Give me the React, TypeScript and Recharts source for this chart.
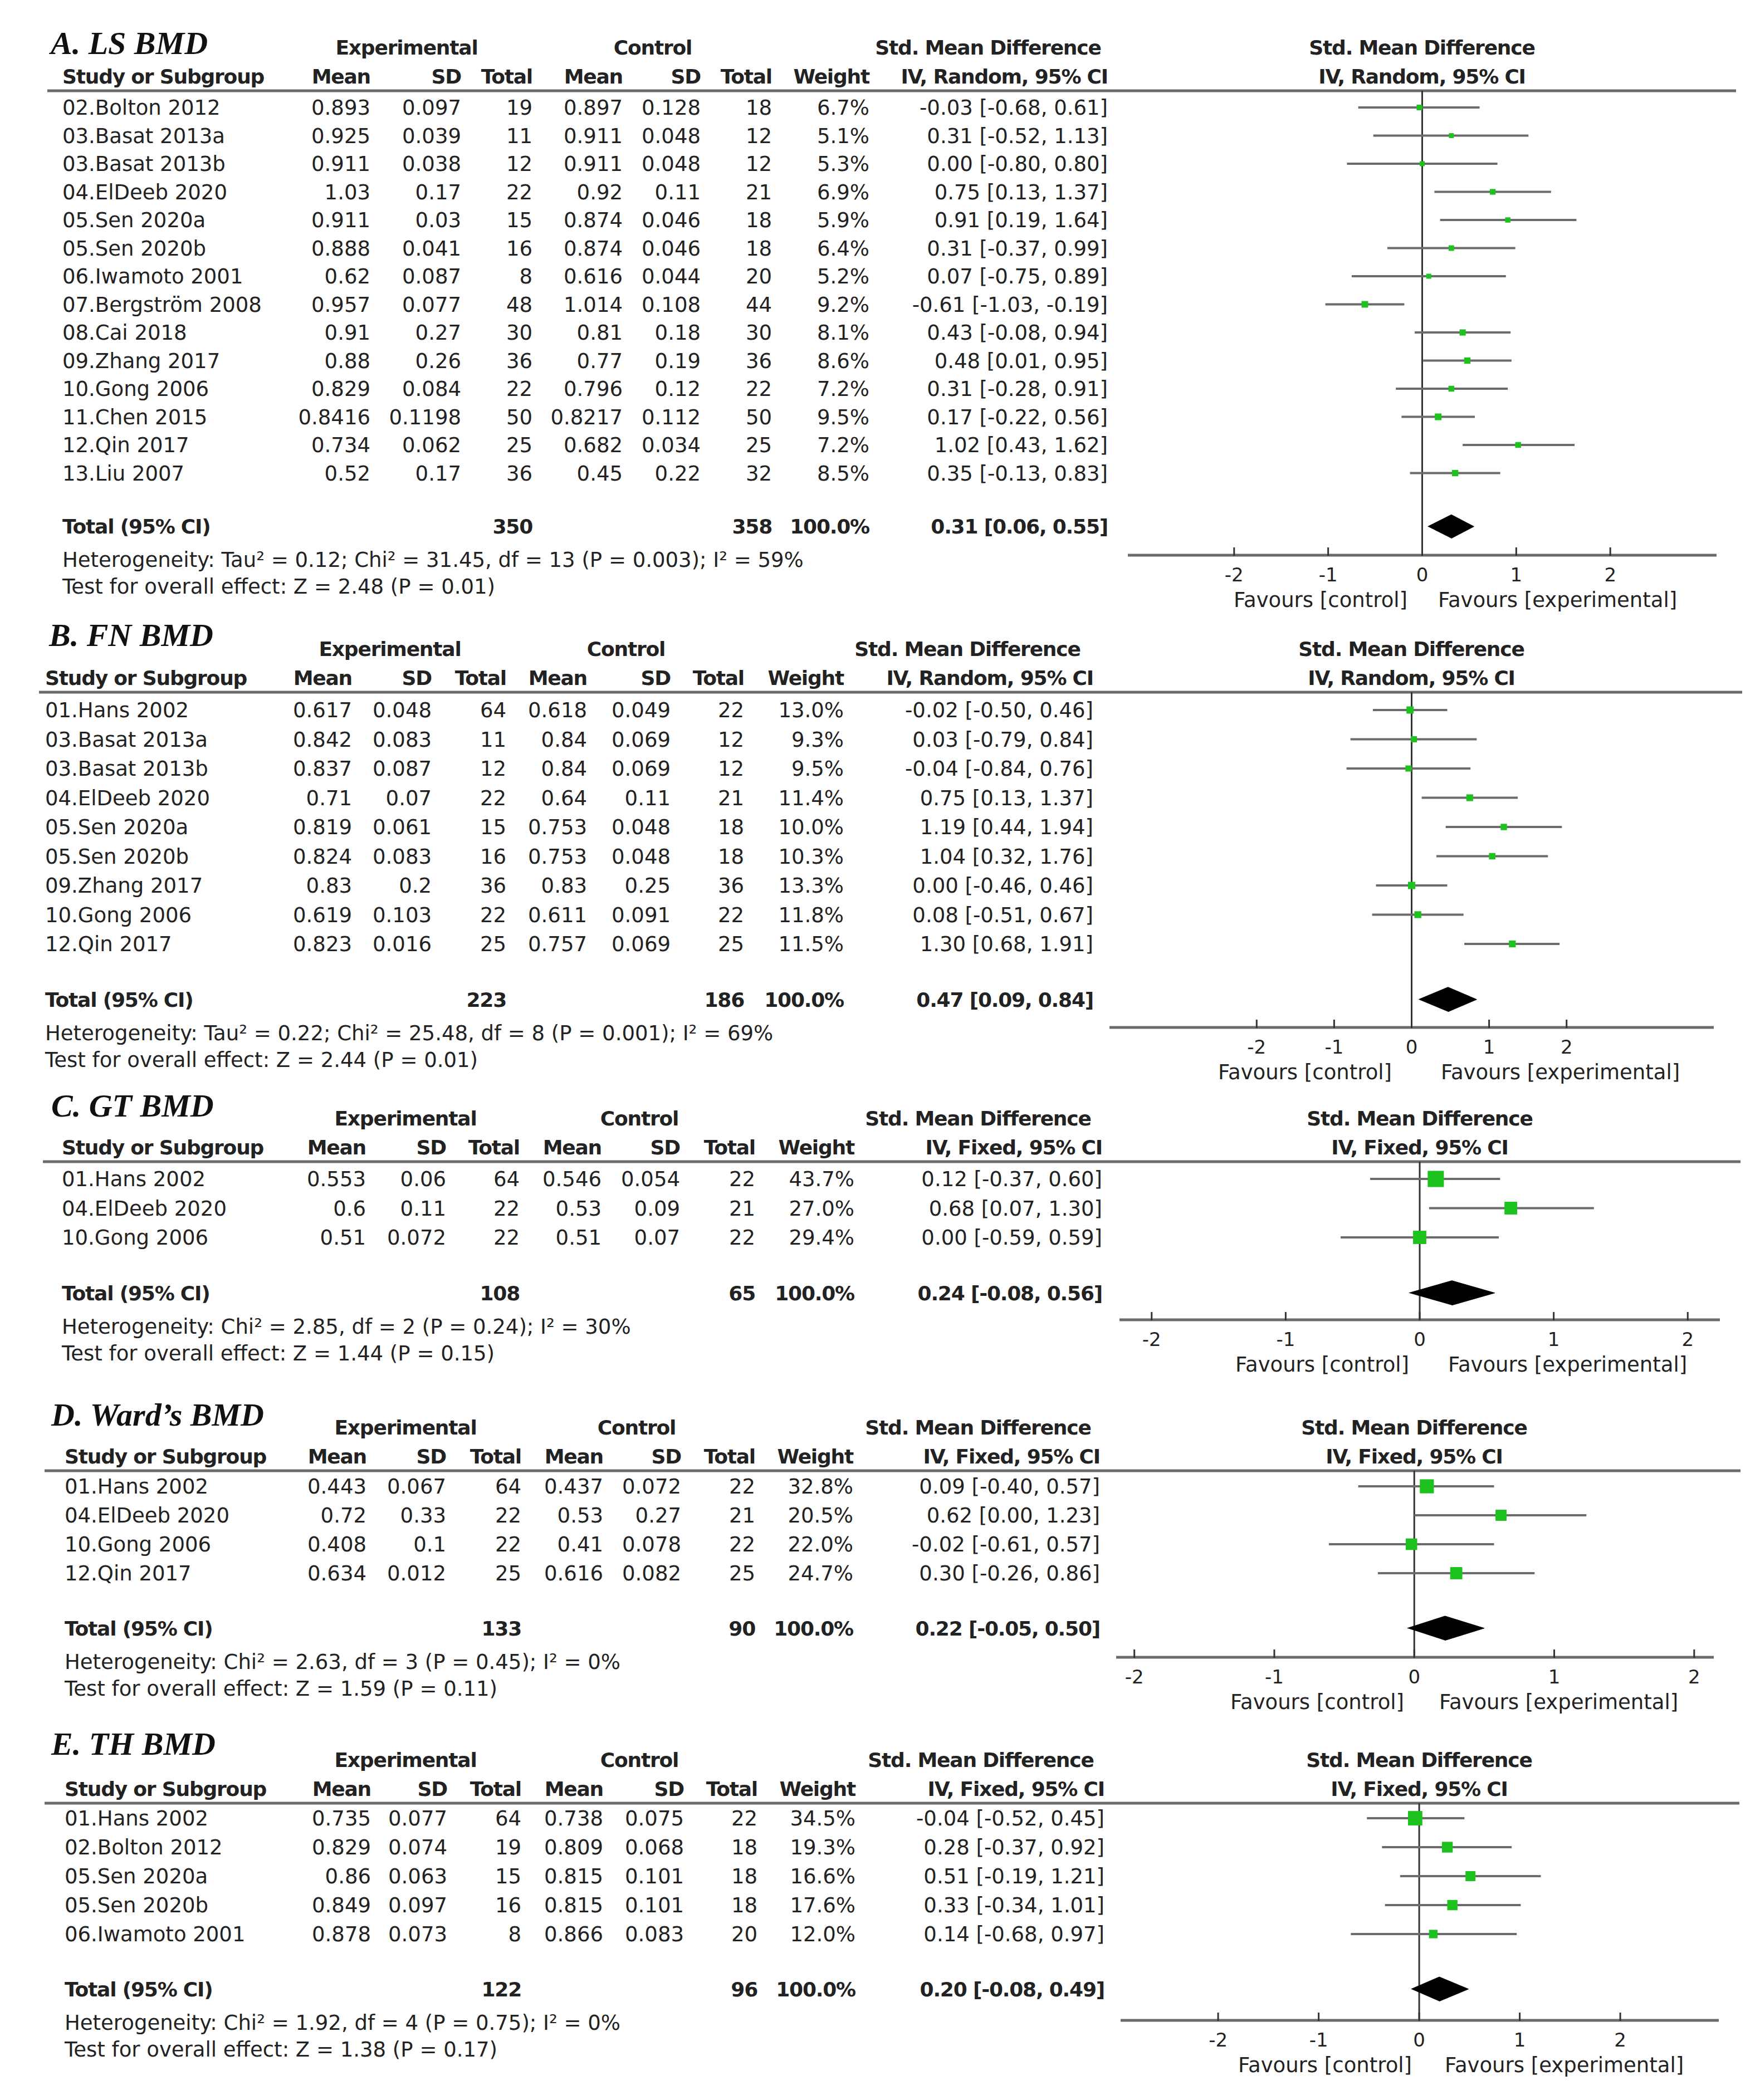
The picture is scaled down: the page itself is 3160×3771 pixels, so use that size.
import React from "react"
import {
  ScatterChart,
  Scatter,
  XAxis,
  YAxis,
  ErrorBar,
  ReferenceLine,
  Customized,
} from "recharts"

// ---- A. LS BMD (random effects)
const lsStudies = ["02.Bolton 2012", "03.Basat 2013a", "03.Basat 2013b", "04.ElDeeb 2020", "05.Sen 2020a", "05.Sen 2020b", "06.Iwamoto 2001", "07.Bergström 2008", "08.Cai 2018", "09.Zhang 2017", "10.Gong 2006", "11.Chen 2015", "12.Qin 2017", "13.Liu 2007"]
const lsExpMean = [0.893, 0.925, 0.911, 1.03, 0.911, 0.888, 0.62, 0.957, 0.91, 0.88, 0.829, 0.8416, 0.734, 0.52]
const lsExpSd = [0.097, 0.039, 0.038, 0.17, 0.03, 0.041, 0.087, 0.077, 0.27, 0.26, 0.084, 0.1198, 0.062, 0.17]
const lsExpN = [19, 11, 12, 22, 15, 16, 8, 48, 30, 36, 22, 50, 25, 36]
const lsCtlMean = [0.897, 0.911, 0.911, 0.92, 0.874, 0.874, 0.616, 1.014, 0.81, 0.77, 0.796, 0.8217, 0.682, 0.45]
const lsCtlSd = [0.128, 0.048, 0.048, 0.11, 0.046, 0.046, 0.044, 0.108, 0.18, 0.19, 0.12, 0.112, 0.034, 0.22]
const lsCtlN = [18, 12, 12, 21, 18, 18, 20, 44, 30, 36, 22, 50, 25, 32]
const lsWeight = [6.7, 5.1, 5.3, 6.9, 5.9, 6.4, 5.2, 9.2, 8.1, 8.6, 7.2, 9.5, 7.2, 8.5]
const lsSmd = [-0.03, 0.31, 0.0, 0.75, 0.91, 0.31, 0.07, -0.61, 0.43, 0.48, 0.31, 0.17, 1.02, 0.35]
const lsLow = [-0.68, -0.52, -0.8, 0.13, 0.19, -0.37, -0.75, -1.03, -0.08, 0.01, -0.28, -0.22, 0.43, -0.13]
const lsHigh = [0.61, 1.13, 0.8, 1.37, 1.64, 0.99, 0.89, -0.19, 0.94, 0.95, 0.91, 0.56, 1.62, 0.83]
const lsTotals = [350, 358]
const lsPooled = [0.31, 0.06, 0.55]
const lsHet = "Heterogeneity: Tau² = 0.12; Chi² = 31.45, df = 13 (P = 0.003); I² = 59%"
const lsTest = "Test for overall effect: Z = 2.48 (P = 0.01)"

// ---- B. FN BMD (random effects)
const fnStudies = ["01.Hans 2002", "03.Basat 2013a", "03.Basat 2013b", "04.ElDeeb 2020", "05.Sen 2020a", "05.Sen 2020b", "09.Zhang 2017", "10.Gong 2006", "12.Qin 2017"]
const fnExpMean = [0.617, 0.842, 0.837, 0.71, 0.819, 0.824, 0.83, 0.619, 0.823]
const fnExpSd = [0.048, 0.083, 0.087, 0.07, 0.061, 0.083, 0.2, 0.103, 0.016]
const fnExpN = [64, 11, 12, 22, 15, 16, 36, 22, 25]
const fnCtlMean = [0.618, 0.84, 0.84, 0.64, 0.753, 0.753, 0.83, 0.611, 0.757]
const fnCtlSd = [0.049, 0.069, 0.069, 0.11, 0.048, 0.048, 0.25, 0.091, 0.069]
const fnCtlN = [22, 12, 12, 21, 18, 18, 36, 22, 25]
const fnWeight = [13.0, 9.3, 9.5, 11.4, 10.0, 10.3, 13.3, 11.8, 11.5]
const fnSmd = [-0.02, 0.03, -0.04, 0.75, 1.19, 1.04, 0.0, 0.08, 1.3]
const fnLow = [-0.5, -0.79, -0.84, 0.13, 0.44, 0.32, -0.46, -0.51, 0.68]
const fnHigh = [0.46, 0.84, 0.76, 1.37, 1.94, 1.76, 0.46, 0.67, 1.91]
const fnTotals = [223, 186]
const fnPooled = [0.47, 0.09, 0.84]
const fnHet = "Heterogeneity: Tau² = 0.22; Chi² = 25.48, df = 8 (P = 0.001); I² = 69%"
const fnTest = "Test for overall effect: Z = 2.44 (P = 0.01)"

// ---- C. GT BMD (fixed effect)
const gtStudies = ["01.Hans 2002", "04.ElDeeb 2020", "10.Gong 2006"]
const gtExpMean = [0.553, 0.6, 0.51]
const gtExpSd = [0.06, 0.11, 0.072]
const gtExpN = [64, 22, 22]
const gtCtlMean = [0.546, 0.53, 0.51]
const gtCtlSd = [0.054, 0.09, 0.07]
const gtCtlN = [22, 21, 22]
const gtWeight = [43.7, 27.0, 29.4]
const gtSmd = [0.12, 0.68, 0.0]
const gtLow = [-0.37, 0.07, -0.59]
const gtHigh = [0.6, 1.3, 0.59]
const gtTotals = [108, 65]
const gtPooled = [0.24, -0.08, 0.56]
const gtHet = "Heterogeneity: Chi² = 2.85, df = 2 (P = 0.24); I² = 30%"
const gtTest = "Test for overall effect: Z = 1.44 (P = 0.15)"

// ---- D. Ward's BMD (fixed effect)
const wardStudies = ["01.Hans 2002", "04.ElDeeb 2020", "10.Gong 2006", "12.Qin 2017"]
const wardExpMean = [0.443, 0.72, 0.408, 0.634]
const wardExpSd = [0.067, 0.33, 0.1, 0.012]
const wardExpN = [64, 22, 22, 25]
const wardCtlMean = [0.437, 0.53, 0.41, 0.616]
const wardCtlSd = [0.072, 0.27, 0.078, 0.082]
const wardCtlN = [22, 21, 22, 25]
const wardWeight = [32.8, 20.5, 22.0, 24.7]
const wardSmd = [0.09, 0.62, -0.02, 0.3]
const wardLow = [-0.4, 0.0, -0.61, -0.26]
const wardHigh = [0.57, 1.23, 0.57, 0.86]
const wardTotals = [133, 90]
const wardPooled = [0.22, -0.05, 0.5]
const wardHet = "Heterogeneity: Chi² = 2.63, df = 3 (P = 0.45); I² = 0%"
const wardTest = "Test for overall effect: Z = 1.59 (P = 0.11)"

// ---- E. TH BMD (fixed effect)
const thStudies = ["01.Hans 2002", "02.Bolton 2012", "05.Sen 2020a", "05.Sen 2020b", "06.Iwamoto 2001"]
const thExpMean = [0.735, 0.829, 0.86, 0.849, 0.878]
const thExpSd = [0.077, 0.074, 0.063, 0.097, 0.073]
const thExpN = [64, 19, 15, 16, 8]
const thCtlMean = [0.738, 0.809, 0.815, 0.815, 0.866]
const thCtlSd = [0.075, 0.068, 0.101, 0.101, 0.083]
const thCtlN = [22, 18, 18, 18, 20]
const thWeight = [34.5, 19.3, 16.6, 17.6, 12.0]
const thSmd = [-0.04, 0.28, 0.51, 0.33, 0.14]
const thLow = [-0.52, -0.37, -0.19, -0.34, -0.68]
const thHigh = [0.45, 0.92, 1.21, 1.01, 0.97]
const thTotals = [122, 96]
const thPooled = [0.2, -0.08, 0.49]
const thHet = "Heterogeneity: Chi² = 1.92, df = 4 (P = 0.75); I² = 0%"
const thTest = "Test for overall effect: Z = 1.38 (P = 0.17)"

const smdTicks = [-2, -1, 0, 1, 2]

const FONT = "DejaVu Sans"
const INK = "#222"
const GREY = "#6b6b6b"
const GREEN = "#1ec21e"
const BOLD = { fontWeight: "bold", fontSize: 36, letterSpacing: -1.2 }

const f2 = (v: number) => v.toFixed(2)
const ciText = (e: number, lo: number, hi: number) => `${f2(e)} [${f2(lo)}, ${f2(hi)}]`

const panels = [
  {
    title: "A. LS BMD", method: "IV, Random, 95% CI",
    studies: lsStudies, expMean: lsExpMean, expSd: lsExpSd, expN: lsExpN,
    ctlMean: lsCtlMean, ctlSd: lsCtlSd, ctlN: lsCtlN, weight: lsWeight,
    smd: lsSmd, low: lsLow, high: lsHigh, totals: lsTotals, pooled: lsPooled, het: lsHet, test: lsTest,
    top: 0, bottom: 1110, hline: 163, rowStart: 193, step: 50.5, axisY: 997,
    axisLeft: 2025, axisRight: 3082, domain: [-3.13, 3.13], zeroX: 2553, titleBase: 97, titleX: 91,
    k: 3.9, favL: 2527, favR: 2582, lineX: [85, 3117],
    cols: [112, 665, 828, 956, 1118, 1258, 1386, 1561, 1989], hdr: [730, 1172, 1774],
  },
  {
    title: "B. FN BMD", method: "IV, Random, 95% CI",
    studies: fnStudies, expMean: fnExpMean, expSd: fnExpSd, expN: fnExpN,
    ctlMean: fnCtlMean, ctlSd: fnCtlSd, ctlN: fnCtlN, weight: fnWeight,
    smd: fnSmd, low: fnLow, high: fnHigh, totals: fnTotals, pooled: fnPooled, het: fnHet, test: fnTest,
    top: 1080, bottom: 1960, hline: 1243, rowStart: 1275, step: 52.5, axisY: 1845,
    axisLeft: 1992, axisRight: 3077, domain: [-3.9, 3.9], zeroX: 2534, titleBase: 1160, titleX: 88,
    k: 3.6, favL: 2499, favR: 2587, lineX: [70, 3128],
    cols: [81, 632, 775, 909, 1054, 1204, 1336, 1515, 1963], hdr: [700, 1124, 1737],
  },
  {
    title: "C. GT BMD", method: "IV, Fixed, 95% CI",
    studies: gtStudies, expMean: gtExpMean, expSd: gtExpSd, expN: gtExpN,
    ctlMean: gtCtlMean, ctlSd: gtCtlSd, ctlN: gtCtlN, weight: gtWeight,
    smd: gtSmd, low: gtLow, high: gtHigh, totals: gtTotals, pooled: gtPooled, het: gtHet, test: gtTest,
    top: 1940, bottom: 2500, hline: 2086, rowStart: 2117, step: 52.5, axisY: 2370,
    axisLeft: 2010, axisRight: 3088, domain: [-2.24, 2.24], zeroX: 2549, titleBase: 2005, titleX: 92,
    k: 4.4, favL: 2530, favR: 2600, lineX: [77, 3125],
    cols: [111, 657, 801, 933, 1080, 1221, 1356, 1534, 1979], hdr: [728, 1148, 1756],
  },
  {
    title: "D. Ward’s BMD", method: "IV, Fixed, 95% CI",
    studies: wardStudies, expMean: wardExpMean, expSd: wardExpSd, expN: wardExpN,
    ctlMean: wardCtlMean, ctlSd: wardCtlSd, ctlN: wardCtlN, weight: wardWeight,
    smd: wardSmd, low: wardLow, high: wardHigh, totals: wardTotals, pooled: wardPooled, het: wardHet, test: wardTest,
    top: 2485, bottom: 3090, hline: 2641, rowStart: 2669, step: 52, axisY: 2976,
    axisLeft: 2004, axisRight: 3077, domain: [-2.13, 2.14], zeroX: 2539, titleBase: 2560, titleX: 92,
    k: 4.4, favL: 2521, favR: 2584, lineX: [80, 3125],
    cols: [116, 658, 801, 936, 1083, 1223, 1356, 1532, 1975], hdr: [728, 1143, 1756],
  },
  {
    title: "E. TH BMD", method: "IV, Fixed, 95% CI",
    studies: thStudies, expMean: thExpMean, expSd: thExpSd, expN: thExpN,
    ctlMean: thCtlMean, ctlSd: thCtlSd, ctlN: thCtlN, weight: thWeight,
    smd: thSmd, low: thLow, high: thHigh, totals: thTotals, pooled: thPooled, het: thHet, test: thTest,
    top: 3075, bottom: 3771, hline: 3238, rowStart: 3265, step: 52, axisY: 3628,
    axisLeft: 2012, axisRight: 3086, domain: [-2.97, 2.98], zeroX: 2548, titleBase: 3151, titleX: 92,
    k: 4.4, favL: 2535, favR: 2594, lineX: [80, 3123],
    cols: [116, 666, 803, 936, 1083, 1228, 1360, 1536, 1983], hdr: [728, 1148, 1761],
  },
]

type P = (typeof panels)[number]

const txt = (x: number, y: number, s: string, anchor: string, extra: any = {}) => (
  <text x={x} y={y} textAnchor={anchor} fontFamily={FONT} fontSize={37} fill={INK} {...extra}>
    {s}
  </text>
)

// text above / below the plot: titles, column headers, rule, heterogeneity, favours
function Frame({ p }: { p: P }) {
  const r = (y: number) => y - p.top
  const c = p.cols
  const h1 = r(p.hline - 65)
  const h2 = r(p.hline - 13)
  const b = BOLD
  const totalY = p.rowStart + (p.studies.length + 0.9) * p.step
  return (
    <g>
      <text x={p.titleX} y={r(p.titleBase)} fontFamily="Liberation Serif" fontStyle="italic"
        fontWeight="bold" fontSize={58} fill="#111">{p.title}</text>
      {txt(p.hdr[0], h1, "Experimental", "middle", b)}
      {txt(p.hdr[1], h1, "Control", "middle", b)}
      {txt(p.hdr[2], h1, "Std. Mean Difference", "middle", b)}
      {txt(p.zeroX, h1, "Std. Mean Difference", "middle", b)}
      {txt(c[0], h2, "Study or Subgroup", "start", b)}
      {txt(c[1], h2, "Mean", "end", b)}
      {txt(c[2], h2, "SD", "end", b)}
      {txt(c[3], h2, "Total", "end", b)}
      {txt(c[4], h2, "Mean", "end", b)}
      {txt(c[5], h2, "SD", "end", b)}
      {txt(c[6], h2, "Total", "end", b)}
      {txt(c[7], h2, "Weight", "end", b)}
      {txt(c[8], h2, p.method, "end", b)}
      {txt(p.zeroX, h2, p.method, "middle", b)}
      <line x1={p.lineX[0]} x2={p.lineX[1]} y1={r(p.hline)} y2={r(p.hline)} stroke={GREY} strokeWidth={5} />
      {txt(c[0], r(totalY + 60 + 13), p.het, "start")}
      {txt(c[0], r(totalY + 108 + 13), p.test, "start")}
      {txt(p.favL, r(p.axisY + 80 + 13), "Favours [control]", "end")}
      {txt(p.favR, r(p.axisY + 80 + 13), "Favours [experimental]", "start")}
    </g>
  )
}

function Panel({ p }: { p: P }) {
  const height = p.bottom - p.top
  const n = p.studies.length
  const totalPos = n + 0.9
  const yTop = -(p.rowStart - p.hline) / p.step
  const yBottom = (p.axisY - p.rowStart) / p.step
  const rowTicks = [...p.studies.map((_, i) => i), totalPos]

  const points = p.studies.map((_, i) => ({
    x: p.smd[i],
    y: i,
    err: [p.smd[i] - p.low[i], p.high[i] - p.smd[i]],
    w: p.weight[i],
  }))
  const [est, lo, hi] = p.pooled
  const diamond = [
    { x: lo, y: totalPos },
    { x: est, y: totalPos - 0.42 },
    { x: hi, y: totalPos },
    { x: est, y: totalPos + 0.42 },
  ]

  const RowTick = (props: any) => {
    const v = props.payload.value
    const y = props.y + 13
    const c = p.cols
    if (v === totalPos) {
      const b = BOLD
      return (
        <g>
          {txt(c[0], y, "Total (95% CI)", "start", b)}
          {txt(c[3], y, String(p.totals[0]), "end", b)}
          {txt(c[6], y, String(p.totals[1]), "end", b)}
          {txt(c[7], y, "100.0%", "end", b)}
          {txt(c[8], y, ciText(est, lo, hi), "end", b)}
        </g>
      )
    }
    const i = v as number
    return (
      <g>
        {txt(c[0], y, p.studies[i], "start")}
        {txt(c[1], y, String(p.expMean[i]), "end")}
        {txt(c[2], y, String(p.expSd[i]), "end")}
        {txt(c[3], y, String(p.expN[i]), "end")}
        {txt(c[4], y, String(p.ctlMean[i]), "end")}
        {txt(c[5], y, String(p.ctlSd[i]), "end")}
        {txt(c[6], y, String(p.ctlN[i]), "end")}
        {txt(c[7], y, `${p.weight[i].toFixed(1)}%`, "end")}
        {txt(c[8], y, ciText(p.smd[i], p.low[i], p.high[i]), "end")}
      </g>
    )
  }

  const AxisTick = (props: any) => (
    <g>
      <line x1={props.x} x2={props.x} y1={props.y - 14} y2={props.y + 1} stroke="#333" strokeWidth={3} />
      <text x={props.x} y={props.y + 47} textAnchor="middle" fontFamily={FONT} fontSize={34} fill={INK}>
        {String(props.payload.value)}
      </text>
    </g>
  )

  const Square = (props: any) => {
    const s = p.k * Math.sqrt(props.payload.w)
    return <rect x={props.cx - s / 2} y={props.cy - s / 2} width={s} height={s} fill={GREEN} />
  }

  return (
    <div style={{ position: "absolute", left: 0, top: p.top, width: 3160, height }}>
      <ScatterChart
        width={3160}
        height={height}
        margin={{ top: p.hline - p.top, right: 3160 - p.axisRight, bottom: 0, left: 0 }}
      >
        <Customized component={<Frame p={p} />} />
        <XAxis
          type="number"
          dataKey="x"
          domain={p.domain}
          allowDataOverflow
          ticks={smdTicks}
          interval={0}
          height={p.bottom - p.axisY}
          tickSize={0}
          tickMargin={0}
          tickLine={false}
          axisLine={{ stroke: GREY, strokeWidth: 5 }}
          tick={AxisTick}
        />
        <YAxis
          type="number"
          dataKey="y"
          domain={[yTop, yBottom]}
          reversed
          allowDataOverflow
          ticks={rowTicks}
          interval={0}
          width={p.axisLeft}
          axisLine={false}
          tickLine={false}
          tick={RowTick}
        />
        <ReferenceLine x={0} stroke="#333" strokeWidth={3} />
        <Scatter data={points} shape={Square} isAnimationActive={false}>
          <ErrorBar dataKey="err" direction="x" width={0} stroke={GREY} strokeWidth={4} isAnimationActive={false} />
        </Scatter>
        <Scatter
          data={diamond}
          fill="#000"
          line={{ fill: "#000", stroke: "#000", strokeWidth: 1 }}
          lineType="joint"
          shape={() => <g />}
          isAnimationActive={false}
        />
      </ScatterChart>
    </div>
  )
}

export default function App() {
  return (
    <div style={{ position: "absolute", left: 0, top: 0, width: 3160, height: 3771, background: "#fff", overflow: "hidden" }}>
      {panels.map((p) => (
        <Panel key={p.title} p={p} />
      ))}
    </div>
  )
}
